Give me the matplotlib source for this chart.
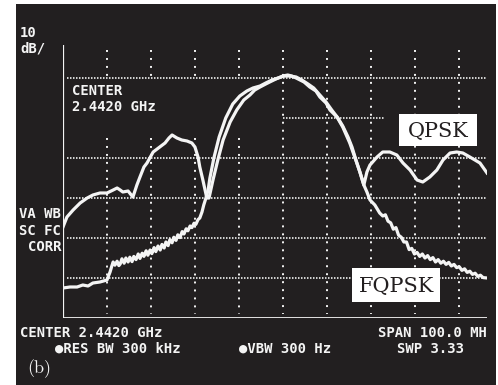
import matplotlib
matplotlib.use("Agg")
import matplotlib.pyplot as plt
from matplotlib.patches import Rectangle

# frequency offset from 2.4420 GHz (MHz) and level (dB, 10 dB/div)
qpsk_f = [-50.0, -49.1, -47.7, -46.1, -44.5, -43.2, -41.6, -40.0, -38.6, -37.7,
          -37.0, -36.4, -35.2, -34.3, -34.1, -33.2, -32.5, -31.6, -30.9, -29.5,
          -28.0, -26.8, -25.9, -25.2, -24.1, -23.0, -21.8, -20.7, -20.0, -19.3,
          -18.9, -18.2, -17.3, -16.8, -15.9, -14.8, -13.6, -12.0, -10.5, -8.9,
          -7.5, -6.4, -5.2, -3.9, -3.0, -1.6, 0.0, 1.1, 2.0, 3.0,
          3.9, 4.8, 6.1, 7.5, 8.4, 9.8, 10.7, 12.3, 13.6, 15.2,
          16.8, 17.5, 18.4, 19.1, 19.8, 21.4, 22.7, 24.3, 25.9, 27.3,
          28.9, 30.5, 31.8, 33.4, 35.0, 36.4, 38.0, 39.5, 40.9, 42.5,
          44.8, 46.4]
qpsk_db = [-47.25, -44.75, -43.0, -41.25, -40.0, -39.25, -38.75, -38.75, -38.0, -37.5,
           -38.0, -38.5, -38.25, -39.5, -39.75, -36.75, -34.75, -32.25, -31.25, -28.5,
           -27.25, -26.25, -25.0, -24.25, -25.0, -25.5, -25.75, -26.25, -27.25, -29.75,
           -32.25, -35.5, -40.0, -40.0, -35.5, -30.5, -25.5, -21.0, -18.0, -15.5,
           -14.25, -13.0, -12.25, -11.5, -11.0, -10.25, -9.5, -9.25, -9.5, -10.0,
           -10.5, -11.0, -12.25, -13.25, -14.75, -16.25, -18.0, -19.75, -22.25, -26.25,
           -31.25, -33.5, -36.75, -33.5, -31.75, -29.75, -28.5, -28.5, -29.25, -31.25,
           -33.0, -35.5, -36.0, -34.75, -33.0, -30.5, -28.75, -28.5, -28.75, -29.75,
           -31.25, -33.75]

fqpsk_f = [-50.0, -48.4, -46.8, -45.5, -44.3, -43.2, -41.6, -40.0,
           -39.3, -38.9, -38.6, -38.2, -37.7, -37.3, -37.0, -36.6, -36.1, -35.7,
           -35.2, -34.8, -34.3, -33.9, -33.4, -32.9, -32.5, -32.0, -31.6, -31.1,
           -30.7, -30.2, -29.8, -29.3, -28.9, -28.4, -27.9, -27.5, -27.0, -26.6,
           -26.1, -25.7, -25.2, -24.8, -24.3, -23.9, -23.4, -22.9, -22.5, -22.0,
           -21.6, -21.1, -20.7, -20.2, -19.8, -19.3, -18.9, -18.4,
           -18.0, -17.5, -17.0, -16.6, -15.7, -14.5, -13.0, -11.4, -9.8, -8.2,
           -6.8, -5.2, -3.9, -2.5, -1.1, 0.2, 1.6, 3.0, 4.3, 5.7,
           7.0, 8.4, 9.8, 11.1, 12.5, 13.6, 14.8, 15.7, 16.6, 17.5,
           18.4, 19.1, 19.8, 20.9,
           22.0, 22.7, 23.3, 23.9, 24.5, 25.1, 25.7, 26.3, 26.9, 27.5,
           28.1, 28.7, 29.3, 29.9, 30.5, 31.1, 31.7, 32.3, 32.9, 33.5,
           34.1, 34.7, 35.3, 35.9, 36.5, 37.1, 37.7, 38.3, 38.9, 39.5,
           40.1, 40.7, 41.3, 41.9, 42.5, 43.1, 43.7, 44.3, 44.9, 45.5,
           46.4]
fqpsk_db = [-62.5, -62.25, -62.25, -61.75, -62.0, -61.25, -61.0, -60.5,
            -58.5, -57.0, -56.0, -56.8, -55.8, -56.9, -56.5, -55.2, -56.3, -55.0,
            -56.0, -54.8, -55.9, -54.6, -55.4, -54.0, -55.1, -53.8, -54.6, -53.2,
            -54.3, -53.0, -53.9, -52.4, -53.4, -52.0, -53.0, -51.6, -52.5, -51.0,
            -51.9, -50.4, -51.2, -49.8, -50.6, -49.2, -49.9, -48.4, -49.0, -47.7,
            -48.2, -47.0, -47.4, -46.3, -46.6, -45.4, -45.0, -43.5,
            -41.75, -40.0, -38.0, -35.0, -30.0, -24.75, -20.0, -16.5, -14.5, -13.25,
            -12.5, -12.0, -11.25, -10.5, -10.0, -9.5, -9.5, -9.75, -10.5, -11.5,
            -12.5, -14.25, -16.0, -18.0, -20.0, -22.0, -24.75, -27.25, -30.5, -33.5,
            -36.75, -38.5, -40.5, -41.75,
            -43.75, -44.5, -44.2, -45.8, -46.2, -47.8, -47.4, -49.3, -49.8, -51.0,
            -51.0, -52.9, -52.6, -54.0, -53.6, -54.6, -54.0, -55.0, -54.4, -55.4,
            -54.9, -56.0, -55.4, -56.3, -55.8, -56.6, -56.1, -57.0, -56.6, -57.4,
            -57.2, -58.1, -57.7, -58.6, -58.3, -59.1, -58.8, -59.6, -59.3, -59.9,
            -60.0]

grid_f = [-40, -30, -20, -10, 0, 10, 20, 30, 40]
grid_db = [-10, -30, -40, -50, -60]

W, H = 498, 385
fig = plt.figure(figsize=(W / 100, H / 100), dpi=100)
fig.patch.set_facecolor("white")


def fx(x):
    return x / W


def fy(y):
    return 1 - y / H


ink = "#f4f4f4"
screen = "#221f20"

# CRT screen background
fig.patches.append(Rectangle((fx(16), 0), fx(496) - fx(16), fy(4), transform=fig.transFigure,
                             facecolor=screen, edgecolor="none", zorder=-2))

ax = fig.add_axes([fx(63), fy(318), fx(487) - fx(63), fy(45) - fy(318)])
ax.set_facecolor("none")
ax.set_xlim(-50, 46.4)
ax.set_ylim(-70, -1.75)
for s in ax.spines.values():
    s.set_visible(False)
ax.set_xticks([])
ax.set_yticks([])

# graticule
vdots = dict(color=ink, lw=1.4, ls=(0, (1, 3.1)), zorder=1)
for f in grid_f:
    if f < 0:
        ax.plot([f, f], [-3, -10], **vdots)
        ax.plot([f, f], [-25.0, -69], **vdots)
    else:
        ax.plot([f, f], [-3, -69], **vdots)
hdots = dict(color=ink, lw=1.2, ls=(0, (0.9, 0.9)), zorder=1)
for d in grid_db:
    ax.plot([-49, 46.4], [d, d], **hdots)
ax.plot([0, 23], [-20, -20], **hdots)

ax.plot([-50, -50], [-70, -1.75], color=ink, lw=1.6, zorder=2, solid_capstyle="butt")
ax.plot([-50, 46.4], [-70, -70], color=ink, lw=2.0, zorder=2, solid_capstyle="butt")

# spectra
ax.plot(qpsk_f, qpsk_db, color=ink, lw=2.3, zorder=3, solid_joinstyle="round")
ax.plot(fqpsk_f, fqpsk_db, color=ink, lw=2.3, zorder=3, solid_joinstyle="round")

mono = dict(family="DejaVu Sans Mono", fontweight="bold", fontsize=10, color=ink, va="baseline")
fig.text(fx(20), fy(37), "10", **mono)
fig.text(fx(20), fy(52), "dB/", **mono)
fig.text(fx(72), fy(95), "CENTER", **mono)
fig.text(fx(72), fy(111), "2.4420 GHz", **mono)
fig.text(fx(61), fy(218), "VA WB", ha="right", **mono)
fig.text(fx(61), fy(235), "SC FC", ha="right", **mono)
fig.text(fx(61), fy(251), "CORR", ha="right", **mono)
fig.text(fx(20), fy(337), "CENTER 2.4420 GHz", **mono)
fig.text(fx(55), fy(353), "\u25cfRES BW 300 kHz", **mono)
fig.text(fx(239), fy(353), "\u25cfVBW 300 Hz", **mono)
fig.text(fx(378), fy(337), "SPAN 100.0 MH", **mono)
fig.text(fx(397), fy(353), "SWP 3.33", **mono)

fig.text(fx(27), fy(373), "(b)", family="cmr10", fontsize=13, color=ink, va="baseline")

# trace labels
for (x0, y0, x1, y1), name, base in [((399, 114, 477, 146), "QPSK", 137),
                                     ((352, 268, 440, 302), "FQPSK", 292)]:
    fig.patches.append(Rectangle((fx(x0), fy(y1)), fx(x1) - fx(x0), fy(y0) - fy(y1),
                                 transform=fig.transFigure, facecolor="white",
                                 edgecolor="none", zorder=3))
    fig.text(fx((x0 + x1) / 2), fy(base), name, family="DejaVu Serif", fontsize=15,
             color="#231f20", ha="center", va="baseline", zorder=4)

fig.savefig("out.png", dpi=100)
